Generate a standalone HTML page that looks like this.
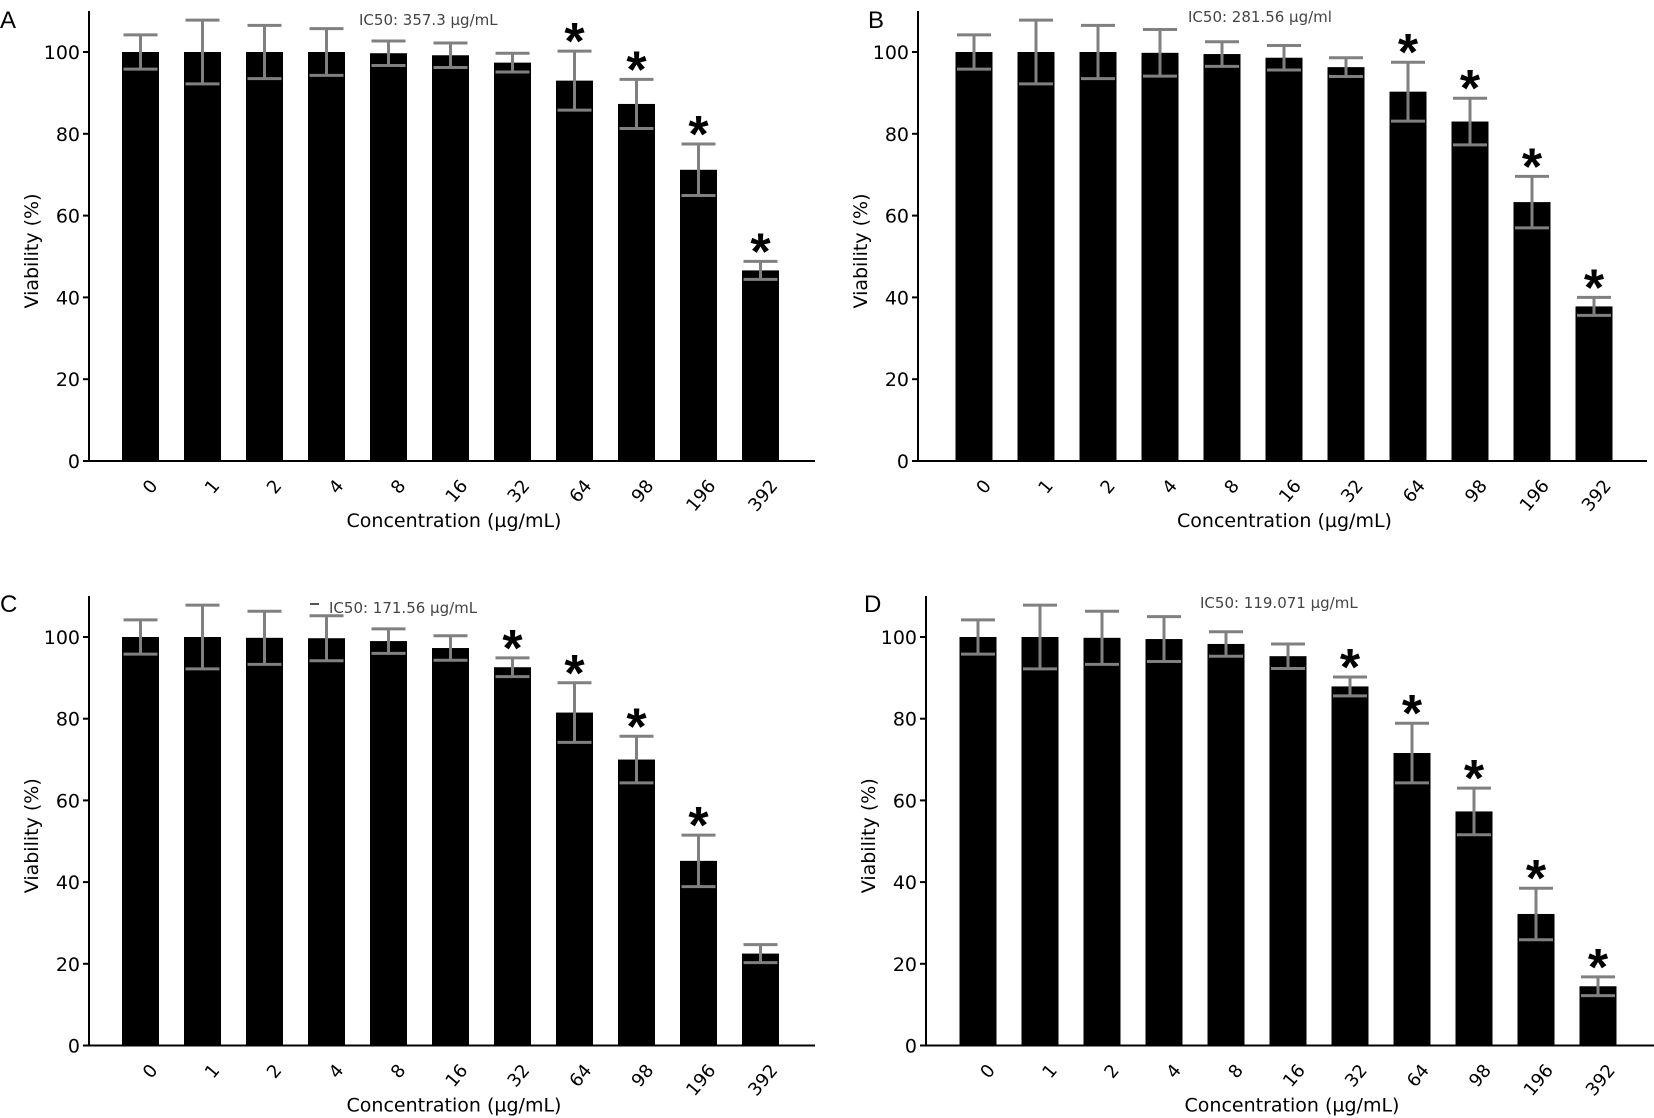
<!DOCTYPE html>
<html><head><meta charset="utf-8">
<style>
html,body{margin:0;padding:0;background:#fff;}
svg{display:block;font-family:"DejaVu Sans","Liberation Sans",sans-serif;}
</style></head>
<body>
<svg id="fig" width="1654" height="1118" viewBox="0 0 1654 1118" xmlns="http://www.w3.org/2000/svg"></svg>
<script>
const categories = ["0","1","2","4","8","16","32","64","98","196","392"];
const yTicks = [0,20,40,60,80,100];
const valuesA = [100,100,100,100,99.7,99.2,97.4,93,87.3,71.2,46.6];
const errorsA = [4.2,7.8,6.5,5.7,3,3,2.3,7.2,6,6.3,2.2];
const starsA = [0,0,0,0,0,0,0,1,1,1,1];
const valuesB = [100,100,100,99.8,99.5,98.6,96.3,90.3,83,63.3,37.8];
const errorsB = [4.2,7.8,6.5,5.7,3,3,2.3,7.2,5.7,6.3,2.2];
const starsB = [0,0,0,0,0,0,0,1,1,1,1];
const valuesC = [100,100,99.8,99.7,99,97.3,92.6,81.5,70,45.2,22.5];
const errorsC = [4.2,7.8,6.5,5.5,3,3,2.3,7.3,5.7,6.3,2.2];
const starsC = [0,0,0,0,0,0,1,1,1,1,0];
const valuesD = [100,100,99.8,99.5,98.3,95.3,87.9,71.6,57.3,32.2,14.5];
const errorsD = [4.2,7.8,6.5,5.5,3,3,2.3,7.3,5.7,6.3,2.3];
const starsD = [0,0,0,0,0,0,1,1,1,1,1];
const ic50Labels = ["IC50: 357.3 µg/mL","IC50: 281.56 µg/ml","IC50: 171.56 µg/mL","IC50: 119.071 µg/mL"];

const NS="http://www.w3.org/2000/svg";
const svg=document.getElementById('fig');
function mk(tag,attrs,parent,text){const e=document.createElementNS(NS,tag);for(const k in attrs)e.setAttribute(k,attrs[k]);if(text!==undefined)e.textContent=text;parent.appendChild(e);return e;}

const panels=[
 {id:'a',letter:'A',ax:89,ay0:461,ay100:52,atop:11,bar0:140.5,aend:815,vals:valuesA,errs:errorsA,stars:starsA,ic:ic50Labels[0],icx:359,icy:25,lx:0,ly:28},
 {id:'b',letter:'B',ax:918,ay0:461,ay100:52,atop:11,bar0:974,aend:1647,vals:valuesB,errs:errorsB,stars:starsB,ic:ic50Labels[1],icx:1188,icy:22,lx:868,ly:28},
 {id:'c',letter:'C',ax:89,ay0:1045.5,ay100:637,atop:596,bar0:140.5,aend:815,vals:valuesC,errs:errorsC,stars:starsC,ic:ic50Labels[2],icx:329,icy:613,lx:0,ly:612,dash:true},
 {id:'d',letter:'D',ax:926,ay0:1045.5,ay100:637,atop:596,bar0:978,aend:1654,vals:valuesD,errs:errorsD,stars:starsD,ic:ic50Labels[3],icx:1200,icy:608,lx:864,ly:612}
];
const step=62, bw=37;

panels.forEach(p=>{
  const g=mk('g',{},svg);
  
  
  const y=v=>p.ay0-(p.ay0-p.ay100)*v/100;
  const x=i=>p.bar0+i*step;
  const lt=mk('text',{x:p.lx,y:p.ly,'font-size':24,fill:'#000','font-family':'Liberation Sans, sans-serif'},g,p.letter);
  
  
  p.vals.forEach((v,i)=>{
    const r=mk('rect',{x:x(i)-bw/2,y:y(v),width:bw,height:p.ay0-y(v),fill:'#000'},g);
    
    
  });
  p.vals.forEach((v,i)=>{
    const e=p.errs[i],cx=x(i),t=y(v+e),b=y(v-e);
    const eg=mk('g',{stroke:'#808080','stroke-width':3,fill:'none'},g);
    
    
    mk('line',{x1:cx,x2:cx,y1:t,y2:b},eg);
    mk('line',{x1:cx-17,x2:cx+17,y1:t,y2:t},eg);
    mk('line',{x1:cx-17,x2:cx+17,y1:b,y2:b},eg);
    if(p.stars[i]){
      const s=mk('text',{x:cx,y:t+8,'font-size':52,'font-weight':'bold','text-anchor':'middle',fill:'#000','font-family':'Liberation Sans, sans-serif'},g,'*');
      
      
    }
  });
  const ya=mk('line',{x1:p.ax,x2:p.ax,y1:p.atop,y2:p.ay0,stroke:'#000','stroke-width':2},g);
  
  
  const xa=mk('line',{x1:p.ax,x2:p.aend,y1:p.ay0,y2:p.ay0,stroke:'#000','stroke-width':2},g);
  
  
  yTicks.forEach(t=>{
    mk('line',{x1:p.ax-6,x2:p.ax,y1:y(t),y2:y(t),stroke:'#000','stroke-width':2},g);
    const tl=mk('text',{x:p.ax-9,y:y(t)+7,'font-size':19,'text-anchor':'end',fill:'#000'},g,String(t));
    
    
  });
  categories.forEach((c,i)=>{
    const tx=x(i)+7, ty=p.ay0+16;
    const tl=mk('text',{x:tx,y:ty,'font-size':18,'text-anchor':'end',fill:'#000',transform:`rotate(-50 ${tx} ${ty})`,dy:'0.8em'},g,c);
    
    
  });
  const yc=(p.atop+p.ay0)/2+15;
  const yt=mk('text',{x:p.ax-51,y:yc,'font-size':19,'text-anchor':'middle',fill:'#000',transform:`rotate(-90 ${p.ax-51} ${yc})`},g,'Viability (%)');
  
  
  const xt=mk('text',{x:(p.ax+p.aend)/2+2,y:p.ay0+66,'font-size':19,'text-anchor':'middle',fill:'#000'},g,'Concentration (µg/mL)');
  
  
  const ic=mk('text',{x:p.icx,y:p.icy,'font-size':15,fill:'#444'},g,p.ic);
  
  
  if(p.dash){mk('line',{x1:p.icx-19,x2:p.icx-10,y1:p.icy-9,y2:p.icy-9,stroke:'#555','stroke-width':2},g);}
});
</script>
</body></html>
